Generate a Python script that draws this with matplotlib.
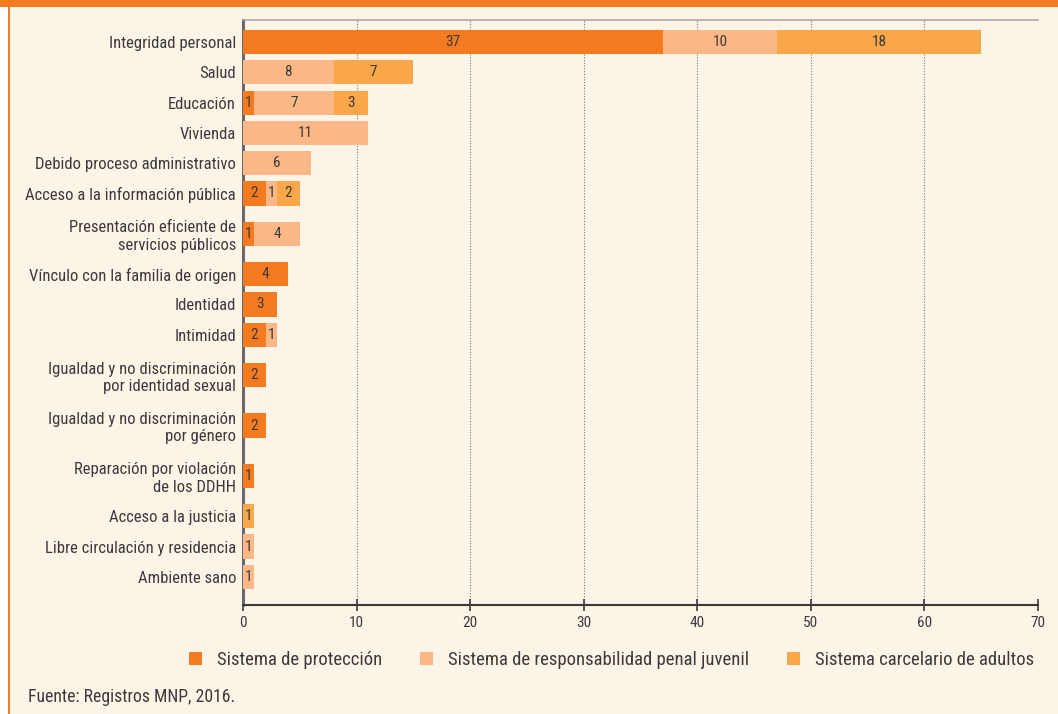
import numpy as np
import matplotlib.pyplot as plt
from matplotlib import font_manager as fm
from matplotlib.patches import Patch, Rectangle

# narrow font if available (reference uses a condensed sans)
disponibles = {f.name for f in fm.fontManager.ttflist}
escala = 1.0
fuente = "DejaVu Sans"
for cand, esc in [("Roboto Condensed", 1.0), ("Liberation Sans Narrow", 1.0),
                  ("Open Sans Condensed", 1.0), ("Roboto", 0.86)]:
    if cand in disponibles:
        fuente, escala = cand, esc
        break
else:
    escala = 0.78
plt.rcParams['font.family'] = [fuente, 'DejaVu Sans']

# datos
categorias = [
    "Integridad personal", "Salud", "Educación", "Vivienda",
    "Debido proceso administrativo", "Acceso a la información pública",
    "Presentación eficiente de\nservicios públicos",
    "Vínculo con la familia de origen", "Identidad", "Intimidad",
    "Igualdad y no discriminación\npor identidad sexual",
    "Igualdad y no discriminación\npor género",
    "Reparación por violación\nde los DDHH",
    "Acceso a la justicia", "Libre circulación y residencia", "Ambiente sano",
]
proteccion = [37, 0, 1, 0, 0, 2, 1, 4, 3, 2, 2, 2, 1, 0, 0, 0]
penal_juvenil = [10, 8, 7, 11, 6, 1, 4, 0, 0, 1, 0, 0, 0, 0, 1, 1]
carcelario = [18, 7, 3, 0, 0, 2, 0, 0, 0, 0, 0, 0, 0, 1, 0, 0]
series = ["Sistema de protección", "Sistema de responsabilidad penal juvenil",
          "Sistema carcelario de adultos"]
colores = ["#F47B20", "#FBB886", "#FAA74A"]

bg = "#FDF4E8"
txt = "#3C3A3A"

# row positions: two-line labels take more room
h = np.array([5 / 3 if "\n" in c else 1.0 for c in categorias])
step = (h[:-1] + h[1:]) / 2
ypos = np.concatenate([[0], np.cumsum(step)])

fig = plt.figure(figsize=(10.58, 7.14), dpi=100, facecolor="white")
fig.patches.append(Rectangle((10 / 1058, 0), 1, 1, transform=fig.transFigure,
                             facecolor=bg, edgecolor="none", zorder=-10))
fig.patches.append(Rectangle((8 / 1058, 0), 2 / 1058, 1, transform=fig.transFigure,
                             facecolor="#F47B20", edgecolor="none", zorder=-5))
fig.patches.append(Rectangle((0, 1 - 7 / 714), 1, 7 / 714, transform=fig.transFigure,
                             facecolor="#F47B20", edgecolor="none", zorder=-5))

ax = fig.add_axes([243 / 1058, 1 - 605 / 714, 795 / 1058, 585 / 714])
ax.set_facecolor(bg)

left = np.zeros(len(categorias))
for vals, col in zip([proteccion, penal_juvenil, carcelario], colores):
    vals = np.array(vals, dtype=float)
    ax.barh(ypos, vals, left=left, height=0.8, color=col, zorder=3)
    for y, l, v in zip(ypos, left, vals):
        if v > 0:
            ax.text(l + v / 2, y, f"{int(v)}", ha="center", va="center",
                    fontsize=11 * escala, color=txt, zorder=4)
    left += vals

ax.set_xlim(0, 70)
ax.set_ylim(ypos[-1] + 0.93, -0.73)
ax.set_xticks(range(0, 71, 10))
ax.set_yticks(ypos)
ax.set_yticklabels(categorias, fontsize=12 * escala, color=txt, linespacing=1.2)
ax.tick_params(axis="y", length=0, pad=5)
ax.tick_params(axis="x", direction="inout", length=8, width=1.2, color=txt,
               labelsize=11 * escala, labelcolor=txt, pad=4)
ax.grid(axis="x", linestyle=(0, (1, 1.5)), color="#777777", linewidth=0.8, zorder=0)

ax.spines["right"].set_visible(False)
ax.spines["top"].set_color("#AAAAAA")
ax.spines["top"].set_linewidth(1.2)
ax.spines["left"].set_color("#6A6868")
ax.spines["left"].set_linewidth(2.2)
ax.spines["bottom"].set_color(txt)
ax.spines["bottom"].set_linewidth(1.5)

handles = [Patch(facecolor=c, edgecolor="none") for c in colores]
fig.legend(handles, series, loc="center", bbox_to_anchor=(0.578, 1 - 660 / 714),
           ncol=3, frameon=False, fontsize=13.5 * escala, handlelength=0.7,
           handleheight=0.7, handletextpad=0.8, columnspacing=2.0, labelcolor=txt,
           borderpad=0.1)

fig.text(28 / 1058, 1 - 697 / 714, "Fuente: Registros MNP, 2016.",
         fontsize=12.7 * escala, color=txt, va="center", ha="left")

fig.savefig("out.png", dpi=100, facecolor=fig.get_facecolor())
